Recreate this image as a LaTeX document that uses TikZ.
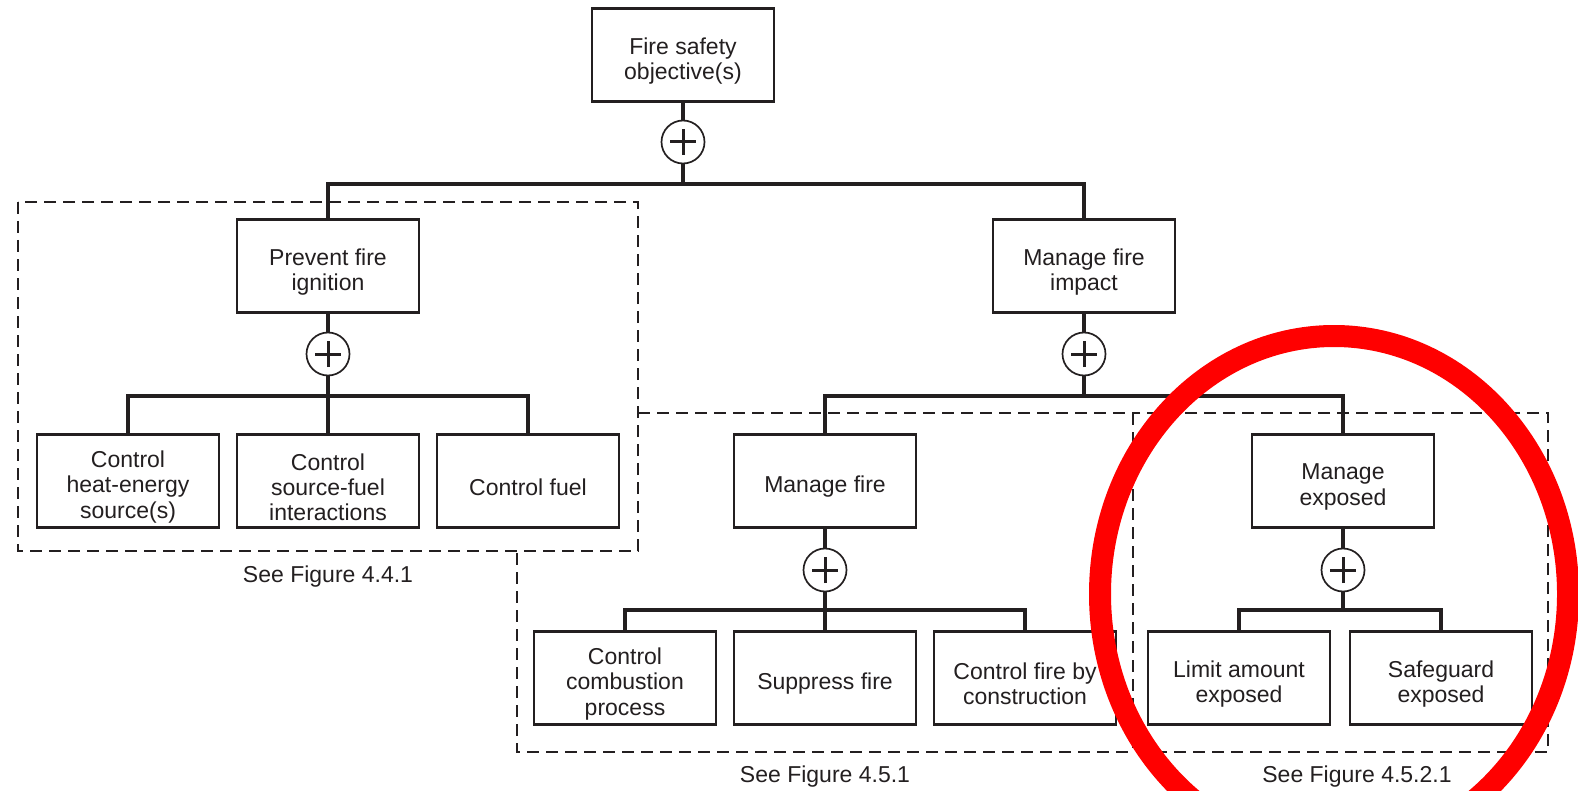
\documentclass[tikz,border=0pt]{standalone}
\usepackage{fontspec}
\setmainfont{Liberation Sans}
\definecolor{ink}{RGB}{35,31,32}
\definecolor{ring}{RGB}{255,0,0}
\tikzset{
	goaltext/.style={align=center,text=ink,inner sep=0pt,yshift=-3pt,font=\fontsize{11.5}{12.6}\selectfont},
	goal/.style={draw=ink,line width=1.2pt,fill=white,minimum width=91pt,minimum height=46.5pt,inner sep=0pt,label={[goaltext]center:#1}},
	andgate/.style={draw=ink,circle,line width=0.85pt,minimum size=21.5pt,inner sep=0pt,fill=white,
		path picture={\draw[ink,line width=1.5pt] (path picture bounding box.center) ++(-6.5pt,0) -- ++(13pt,0)
			(path picture bounding box.center) ++(0,-6.5pt) -- ++(0,13pt);}},
	bar/.style={draw=ink,line width=2.4pt},
	region/.style={draw=ink,line width=1pt,dash pattern=on 6pt off 3.5pt},
	seefig/.style={text=ink,font=\fontsize{11.5}{12.6}\selectfont}
}
\begin{document}
\begin{tikzpicture}[x=0.5pt,y=-0.5pt]
	\useasboundingbox (0,0) rectangle (1578,791);
	\draw[region] (18,202) rectangle (638,551);
	\draw[region] (638,413) -- (1133,413);
	\draw[region] (517,553) |- (1133,752);
	\draw[region] (1133,413) rectangle (1548,752);
	\node[seefig] (fig441) at (328,577) {See Figure 4.4.1};
	\node[seefig] (fig451) at (825,777) {See Figure 4.5.1};
	\node[seefig] (fig4521) at (1357,777) {See Figure 4.5.2.1};

	\node[goal={Fire safety\\objective(s)}] (fso) at (683,55) {};
	\node[andgate] (p1) at (683,142) {};
	\coordinate (j1) at (683,184);
	\node[goal={Prevent fire\\ignition}] (pfi) at (328,266) {};
	\node[goal={Manage fire\\impact}] (mfi) at (1084,266) {};
	\node[andgate] (p2) at (328,354) {};
	\node[andgate] (p3) at (1084,354) {};
	\coordinate (j2) at (328,396);
	\coordinate (j3) at (1084,396);
	\node[goal={Control\\heat-energy\\source(s)}] (chs) at (128,481) {};
	\node[goal={Control\\source-fuel\\interactions}] (csf) at (328,481) {};
	\node[goal={Control fuel}] (cfu) at (528,481) {};
	\node[goal={Manage fire}] (mf) at (825,481) {};
	\node[goal={Manage\\exposed}] (me) at (1343,481) {};
	\node[andgate] (p4) at (825,570) {};
	\node[andgate] (p5) at (1343,570) {};
	\coordinate (j4) at (825,610);
	\coordinate (j5) at (1343,610);
	\node[goal={Control\\combustion\\process}] (ccp) at (625,678) {};
	\node[goal={Suppress fire}] (sf) at (825,678) {};
	\node[goal={Control fire by\\construction}] (cfc) at (1025,678) {};
	\node[goal={Limit amount\\exposed}] (lae) at (1239,678) {};
	\node[goal={Safeguard\\exposed}] (sge) at (1441,678) {};

	\draw[bar] (fso) -- (p1);
	\draw[bar] (p1) -- (j1);
	\draw[bar] (pfi.north) |- (j1) -| (mfi.north);
	\draw[bar] (pfi) -- (p2);
	\draw[bar] (p2) -- (j2);
	\draw[bar] (chs.north) |- (j2) -| (cfu.north);
	\draw[bar] (j2) -- (csf);
	\draw[bar] (mfi) -- (p3);
	\draw[bar] (p3) -- (j3);
	\draw[bar] (mf.north) |- (j3) -| (me.north);
	\draw[bar] (mf) -- (p4);
	\draw[bar] (p4) -- (j4);
	\draw[bar] (ccp.north) |- (j4) -| (cfc.north);
	\draw[bar] (j4) -- (sf);
	\draw[bar] (me) -- (p5);
	\draw[bar] (p5) -- (j5);
	\draw[bar] (lae.north) |- (j5) -| (sge.north);

	\draw[ring,line width=11pt] (1334,594) ellipse [x radius=117pt,y radius=129pt];
\end{tikzpicture}
\end{document}
